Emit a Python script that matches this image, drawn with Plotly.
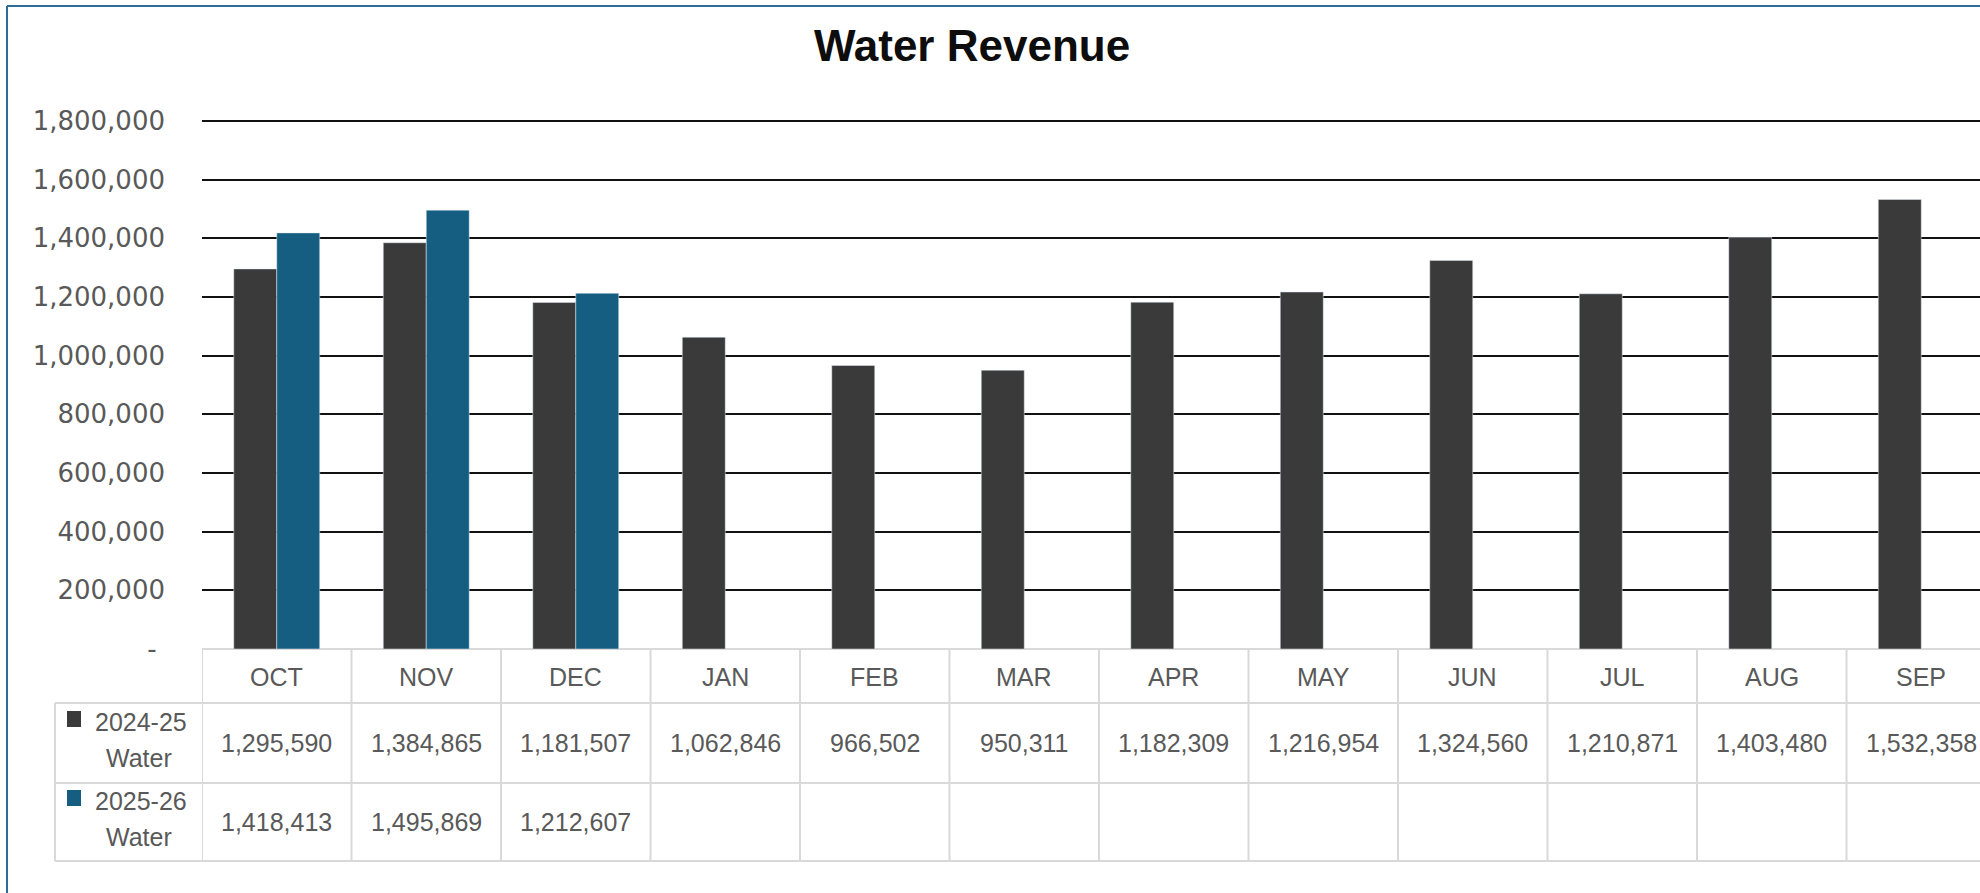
import plotly.graph_objects as go

# ── Data ────────────────────────────────────────────────────────────────────
months = ["OCT", "NOV", "DEC", "JAN", "FEB", "MAR", "APR", "MAY", "JUN", "JUL", "AUG", "SEP"]
water_2024_25 = [1295590, 1384865, 1181507, 1062846, 966502, 950311,
                 1182309, 1216954, 1324560, 1210871, 1403480, 1532358]
water_2025_26 = [1418413, 1495869, 1212607, None, None, None,
                 None, None, None, None, None, None]
series_labels = [("2024-25", "Water"), ("2025-26", "Water")]
y_ticks = [0, 200000, 400000, 600000, 800000, 1000000, 1200000, 1400000, 1600000, 1800000]
y_max = 1810000

DARK = "#3a3a3a"
BLUE = "#165e81"
GRID_TXT = "#595959"
BORDER = "#d9d9d9"

W, H = 1980, 893
B = 244
L, R = 202, 0
# 0 sits at pixel 649, 1,800,000 at pixel 121
T = H - B - 528 * y_max / 1800000


def py(p):
    """pixel row -> paper y"""
    return (H - B - p) / (H - T - B)


def px(p):
    """pixel column -> paper x"""
    return (p - L) / (W - L - R)


fig = go.Figure()
fig.add_trace(go.Bar(x=months, y=water_2024_25, name="2024-25 Water", marker_color=DARK))
fig.add_trace(go.Bar(x=months, y=water_2025_26, name="2025-26 Water", marker_color=BLUE))

tick_text = ["-\u00a0"] + [f"{v:,}" for v in y_ticks[1:]]

fig.update_layout(
    width=W, height=H,
    margin=dict(l=L, r=R, t=T, b=B, pad=0),
    paper_bgcolor="white", plot_bgcolor="white",
    barmode="group", bargap=0.425, bargroupgap=0,
    showlegend=False,
    title=dict(text="<b>Water Revenue</b>", x=972 / W, xref="container", xanchor="center",
               y=1 - 46 / H, yref="container", yanchor="middle",
               font=dict(family="Liberation Sans, Arial", size=44, color="#0d0d0d")),
    xaxis=dict(range=[-0.5, -0.5 + (W - L - R) / 149.5], showticklabels=False,
               showgrid=False, zeroline=False, showline=False, fixedrange=True),
    yaxis=dict(range=[0, y_max], tickvals=y_ticks, ticktext=tick_text,
               showgrid=True, gridcolor="#111111", gridwidth=2,
               zeroline=True, zerolinecolor=BORDER, zerolinewidth=2,
               showline=False, ticks="", ticklabelstandoff=36,
               tickfont=dict(family="DejaVu Sans", size=26, color=GRID_TXT)),
)

shapes = []
# chart frame (left + top edges)
shapes.append(dict(type="line", xref="paper", yref="paper", x0=px(7), x1=px(W + 5),
                   y0=py(6), y1=py(6), line=dict(color="#2c6c98", width=2)))
shapes.append(dict(type="line", xref="paper", yref="paper", x0=px(7), x1=px(7),
                   y0=py(6), y1=py(H + 5), line=dict(color="#2c6c98", width=2)))

# data table grid
row_lines = [703, 783, 861]
for r in row_lines:
    shapes.append(dict(type="line", xref="paper", yref="paper", x0=px(55), x1=px(W + 5),
                       y0=py(r), y1=py(r), line=dict(color=BORDER, width=2)))
shapes.append(dict(type="line", xref="paper", yref="paper", x0=px(55), x1=px(55),
                   y0=py(703), y1=py(861), line=dict(color=BORDER, width=2)))
for i in range(len(months)):
    shapes.append(dict(type="line", xref="x", yref="paper", x0=i - 0.5, x1=i - 0.5,
                       y0=py(649), y1=py(861), line=dict(color=BORDER, width=2)))

annotations = []
cell_font = dict(family="Liberation Sans, Arial", size=25, color=GRID_TXT)
for i, m in enumerate(months):
    annotations.append(dict(x=m, y=py(677), xref="x", yref="paper", text=m, showarrow=False,
                            font=cell_font, xanchor="center", yanchor="middle"))
for row_y, vals in ((743, water_2024_25), (822, water_2025_26)):
    for m, v in zip(months, vals):
        if v is None:
            continue
        annotations.append(dict(x=m, y=py(row_y), xref="x", yref="paper", text=f"{v:,}",
                                showarrow=False, font=cell_font,
                                xanchor="center", yanchor="middle"))

# legend keys inside the table
for (top, bot), (l1, l2), col in zip(((703, 783), (783, 861)), series_labels, (DARK, BLUE)):
    mid = (top + bot) / 2
    shapes.append(dict(type="rect", xref="paper", yref="paper", x0=px(67), x1=px(81),
                       y0=py(mid - 24 + 8), y1=py(mid - 24 - 8), fillcolor=col,
                       line=dict(width=0)))
    annotations.append(dict(x=px(141), y=py(mid - 21), xref="paper", yref="paper", text=l1,
                            showarrow=False, font=cell_font, xanchor="center", yanchor="middle"))
    annotations.append(dict(x=px(139), y=py(mid + 15), xref="paper", yref="paper", text=l2,
                            showarrow=False, font=cell_font, xanchor="center", yanchor="middle"))

fig.update_layout(shapes=shapes, annotations=annotations)

fig.write_html("out.html", config={"displayModeBar": False},
               post_script="document.body.style.margin='0';")
